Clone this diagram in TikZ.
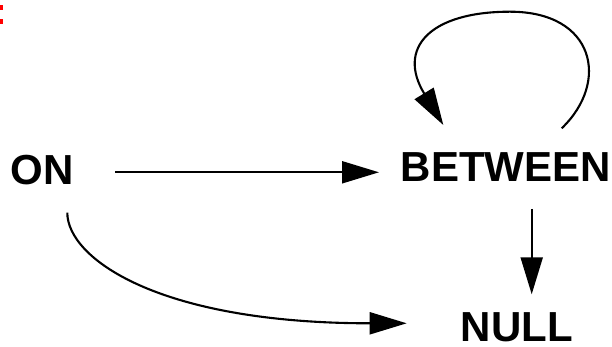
\documentclass[tikz,border=0pt]{standalone}
\usepackage{fontspec}
\setmainfont{Liberation Sans}
\usetikzlibrary{arrows.meta}
\tikzset{
  lbl/.style={inner sep=0pt, anchor=base, font=\fontsize{42}{50}\selectfont\bfseries},
  arr/.style={line width=2.1pt, -{Triangle[length=37pt,width=22pt]}},
}
\begin{document}
\begin{tikzpicture}[x=1pt,y=1pt]
\useasboundingbox (0,0) rectangle (612,347);
% cut-off red marks at the top left edge
\fill[red] (0,342) rectangle (2.7,337);
\fill[red] (0,328) rectangle (2.7,323);
% nodes
\node[lbl] (on) at (42.2,162.5) {ON};
\node[lbl] (between) at (505.8,165) {BETWEEN};
\node[lbl] (null) at (516.7,5) {NULL};
% connectors
\draw[arr] ([shift={(72.8,12.2)}]on.base) -- ([shift={(-126.8,9.7)}]between.base);
\draw[arr] ([shift={(25.9,-27)}]between.base) -- ([shift={(15,47.7)}]null.base);
\draw[arr] ([shift={(25.1,-28.2)}]on.base) .. controls +(0,-45) and +(-250,0) .. ([shift={(-110,18.7)}]null.base);
\draw[arr] ([shift={(55.9,53.7)}]between.base)
   .. controls +(48.3,46.3) and +(85,0) .. ([shift={(4.2,170.3)}]between.base)
   .. controls +(-80,0) and +(-46.8,77) .. ([shift={(-62.5,57)}]between.base);
\end{tikzpicture}
\end{document}
